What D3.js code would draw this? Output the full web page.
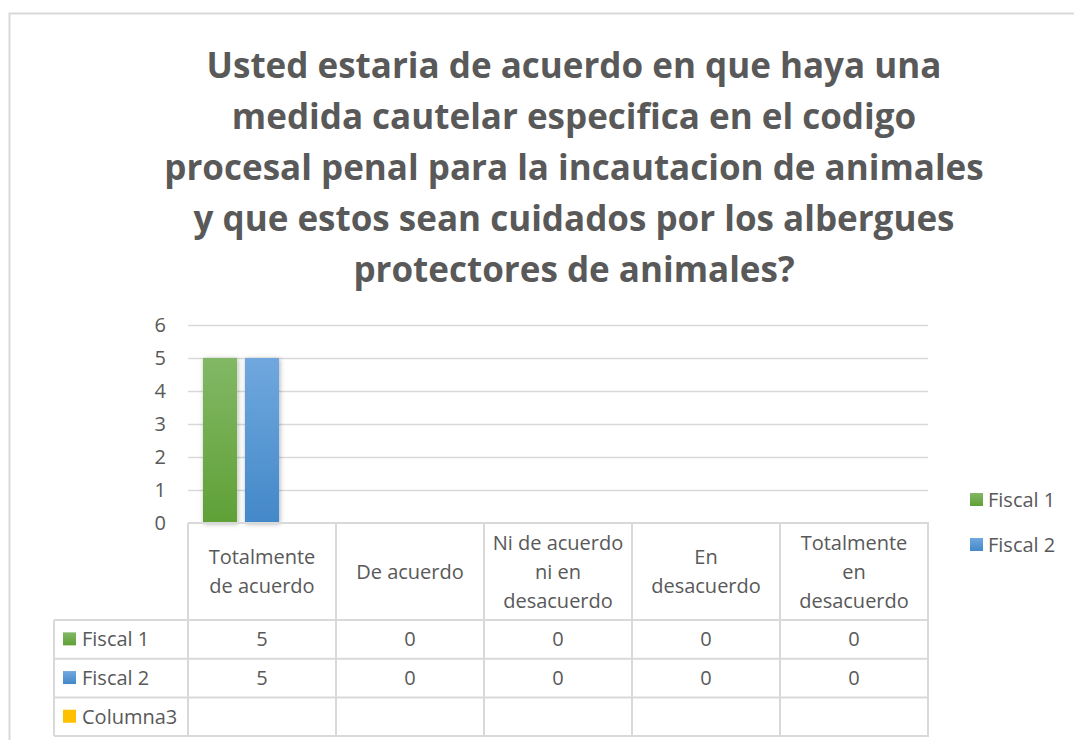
<!DOCTYPE html>
<html>
<head>
<meta charset="utf-8">
<script src="https://cdn.jsdelivr.net/npm/d3@7"></script>
<style>
  body { margin: 0; background: #fff; }
  text { font-family: "Open Sans", sans-serif; fill: #595959; }
</style>
</head>
<body>
<div id="chart"></div>
<script>
// data
var categories = [["Totalmente", "de acuerdo"], ["De acuerdo"], ["Ni de acuerdo", "ni en", "desacuerdo"], ["En", "desacuerdo"], ["Totalmente", "en", "desacuerdo"]];
var catKeys = ["Totalmente de acuerdo", "De acuerdo", "Ni de acuerdo ni en desacuerdo", "En desacuerdo", "Totalmente en desacuerdo"];
var seriesNames = ["Fiscal 1", "Fiscal 2", "Columna3"];
var fiscal1 = [5, 0, 0, 0, 0];
var fiscal2 = [5, 0, 0, 0, 0];
var columna3 = [null, null, null, null, null];
var yTicks = [0, 1, 2, 3, 4, 5, 6];
var titleLines = ["Usted estaria de acuerdo en que haya una", "medida cautelar especifica en el codigo",
  "procesal penal para la incautacion de animales", "y que estos sean cuidados por los albergues",
  "protectores de animales?"];

var seriesValues = [fiscal1, fiscal2, columna3];
var colors = [["#82b865", "#60a037"], ["#70a8de", "#4388c9"], ["#ffc000", "#ffc000"]];

var W = 1074, H = 740;
var svg = d3.select("#chart").append("svg")
    .attr("width", W)
    .attr("height", H);

var defs = svg.append("defs");
colors.forEach(function(c, i) {
  var g = defs.append("linearGradient").attr("id", "grad" + i)
      .attr("x1", 0).attr("y1", 0).attr("x2", 0).attr("y2", 1);
  g.append("stop").attr("offset", "0%").attr("stop-color", c[0]);
  g.append("stop").attr("offset", "100%").attr("stop-color", c[1]);
});
defs.append("filter").attr("id", "shadow")
    .attr("x", "-30%").attr("y", "-10%").attr("width", "160%").attr("height", "120%")
  .append("feDropShadow")
    .attr("dx", 1).attr("dy", 1).attr("stdDeviation", 2.5)
    .attr("flood-color", "#000").attr("flood-opacity", 0.3);

// outer chart border
svg.append("path")
    .attr("d", "M9.5," + (H + 2) + "V13.5H" + (W + 2))
    .attr("fill", "none")
    .attr("stroke", "#d9d9d9")
    .attr("stroke-width", 2);

// title
svg.append("g").selectAll("text")
    .data(titleLines)
    .enter().append("text")
    .attr("x", 574)
    .attr("y", function(d, i) { return 78 + i * 51; })
    .attr("text-anchor", "middle")
    .style("font-size", "35px")
    .style("font-weight", "bold")
    .text(function(d) { return d; });

// scales
var x0 = d3.scaleBand()
    .domain(catKeys)
    .range([188, 928]);
var x1 = d3.scaleBand()
    .domain(seriesNames)
    .range([15, 133])
    .paddingInner(0.19);
var y = d3.scaleLinear()
    .domain([0, 6])
    .range([523, 325]);

// gridlines
svg.append("g").selectAll("line")
    .data(yTicks.filter(function(d) { return d > 0; }))
    .enter().append("line")
    .attr("x1", 188).attr("x2", 928)
    .attr("y1", function(d) { return Math.round(y(d)) + 0.5; })
    .attr("y2", function(d) { return Math.round(y(d)) + 0.5; })
    .attr("stroke", "#d9d9d9")
    .attr("stroke-width", 1.5);

// y axis labels
var yAxis = svg.append("g")
    .attr("transform", "translate(166,0)")
    .call(d3.axisLeft(y).tickValues(yTicks).tickSize(0).tickPadding(0).tickFormat(d3.format("d")));
yAxis.select(".domain").remove();
yAxis.selectAll("text")
    .style("font-size", "20px")
    .style("fill", "#595959")
    .style("font-family", "\"Open Sans\", sans-serif");

// bars
var groups = svg.append("g").selectAll("g")
    .data(catKeys)
    .enter().append("g")
    .attr("transform", function(d) { return "translate(" + x0(d) + ",0)"; });

groups.selectAll("rect")
    .data(function(d, ci) {
      return seriesNames.map(function(s, si) { return {s: s, si: si, v: seriesValues[si][ci]}; });
    })
    .enter().filter(function(d) { return d.v; }).append("rect")
    .attr("x", function(d) { return x1(d.s); })
    .attr("width", x1.bandwidth())
    .attr("y", function(d) { return y(d.v); })
    .attr("height", function(d) { return y(0) - y(d.v); })
    .attr("fill", function(d) { return "url(#grad" + d.si + ")"; })
    .attr("filter", "url(#shadow)");

// data table
var tableTop = 523, headerBottom = 620, rowH = 38.7, tableLeft = 54;
var grid = svg.append("g")
    .attr("stroke", "#d9d9d9")
    .attr("stroke-width", 2)
    .attr("fill", "none");
// horizontal lines
grid.append("line").attr("x1", 188).attr("x2", 929).attr("y1", tableTop).attr("y2", tableTop);
d3.range(4).forEach(function(i) {
  var yy = headerBottom + i * rowH;
  grid.append("line").attr("x1", tableLeft).attr("x2", 929).attr("y1", yy).attr("y2", yy);
});
// vertical lines
catKeys.forEach(function(k) {
  grid.append("line").attr("x1", x0(k)).attr("x2", x0(k)).attr("y1", tableTop).attr("y2", headerBottom + 3 * rowH);
});
grid.append("line").attr("x1", 928).attr("x2", 928).attr("y1", tableTop).attr("y2", headerBottom + 3 * rowH);
grid.append("line").attr("x1", tableLeft).attr("x2", tableLeft).attr("y1", headerBottom).attr("y2", headerBottom + 3 * rowH);

// header texts
catKeys.forEach(function(k, i) {
  var lines = categories[i];
  var cy = (tableTop + headerBottom) / 2;
  var lh = 29;
  svg.append("g").selectAll("text")
      .data(lines)
      .enter().append("text")
      .attr("x", x0(k) + x0.bandwidth() / 2)
      .attr("y", function(d, j) { return cy + (j - (lines.length - 1) / 2) * lh + 7; })
      .attr("text-anchor", "middle")
      .style("font-size", "20px")
      .text(function(d) { return d; });
});

// rows
seriesNames.forEach(function(s, si) {
  var cy = headerBottom + si * rowH + rowH / 2;
  svg.append("rect")
      .attr("x", 63).attr("y", cy - 7)
      .attr("width", 13).attr("height", 13)
      .attr("fill", "url(#grad" + si + ")");
  svg.append("text")
      .attr("x", 82).attr("y", cy + 7)
      .style("font-size", "20px")
      .text(s);
  catKeys.forEach(function(k, ci) {
    var v = seriesValues[si][ci];
    if (v === null) return;
    svg.append("text")
        .attr("x", x0(k) + x0.bandwidth() / 2)
        .attr("y", cy + 7)
        .attr("text-anchor", "middle")
        .style("font-size", "20px")
        .text(v);
  });
});

// legend
var legend = svg.append("g").selectAll("g")
    .data(seriesNames.slice(0, 2))
    .enter().append("g")
    .attr("transform", function(d, i) { return "translate(970," + (500 + i * 45) + ")"; });
legend.append("rect")
    .attr("y", -7).attr("width", 13).attr("height", 13)
    .attr("fill", function(d, i) { return "url(#grad" + i + ")"; });
legend.append("text")
    .attr("x", 18).attr("y", 7)
    .style("font-size", "20px")
    .text(function(d) { return d; });
</script>
</body>
</html>
